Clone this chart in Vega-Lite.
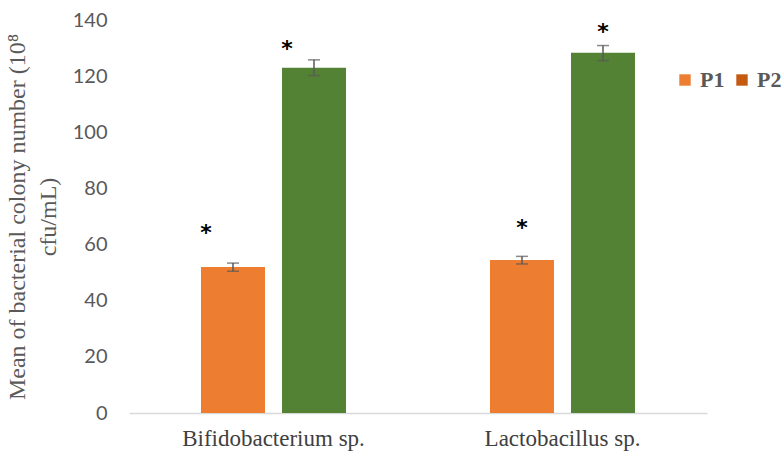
{
  "$schema": "https://vega.github.io/schema/vega-lite/v6.json",
  "width": 578,
  "height": 393,
  "autosize": {"type": "none"},
  "padding": {"left": 129, "top": 20, "right": 77, "bottom": 41},
  "background": "white",
  "config": {"view": {"stroke": null}},
  "data": {
    "values": [
      {"genus": "Bifidobacterium sp.", "series": "P1", "mean": 52, "lo": 50.5, "hi": 53.4, "star": 67},
      {"genus": "Bifidobacterium sp.", "series": "P2", "mean": 123, "lo": 120.2, "hi": 125.8, "star": 132.5},
      {"genus": "Lactobacillus sp.", "series": "P1", "mean": 54.5, "lo": 53.1, "hi": 55.8, "star": 68.8},
      {"genus": "Lactobacillus sp.", "series": "P2", "mean": 128.3, "lo": 125.5, "hi": 130.9, "star": 138.6}
    ]
  },
  "encoding": {
    "x": {
      "field": "genus", "type": "nominal",
      "scale": {"paddingInner": 0, "paddingOuter": 0},
      "axis": {
        "title": null, "labelAngle": 0, "ticks": false, "labelLimit": 0,
        "domainColor": "#d9d9d9", "domainWidth": 1.5,
        "labelFont": "Liberation Serif", "labelFontSize": 23, "labelColor": "#404040",
        "labelPadding": 14
      }
    },
    "xOffset": {
      "field": "series", "type": "nominal",
      "scale": {"paddingInner": 0.21, "paddingOuter": 0.889}
    }
  },
  "layer": [
    {
      "mark": {"type": "bar"},
      "encoding": {
        "y": {
          "field": "mean", "type": "quantitative",
          "scale": {"domain": [0, 140], "nice": false},
          "axis": {
            "values": [0, 20, 40, 60, 80, 100, 120, 140],
            "grid": false, "ticks": false, "domain": false,
            "labelFont": "Lato", "labelFontSize": 20, "labelColor": "#595959",
            "labelPadding": 22,
            "title": ["Mean of bacterial colony number (10⁸", "cfu/mL)"],
            "titleFont": "Liberation Serif", "titleFontSize": 24, "titleFontWeight": "normal",
            "titleLineHeight": 31,
            "titleColor": "#595959", "titlePadding": 12
          }
        },
        "color": {
          "field": "series", "type": "nominal",
          "scale": {"domain": ["P1", "P2"], "range": ["#ED7D31", "#548235"]},
          "legend": null
        }
      }
    },
    {
      "mark": {"type": "rule", "color": "#595959", "strokeWidth": 1.5},
      "encoding": {
        "y": {"field": "lo", "type": "quantitative"},
        "y2": {"field": "hi"}
      }
    },
    {
      "mark": {"type": "tick", "color": "#595959", "size": 12, "thickness": 1.5, "orient": "horizontal"},
      "encoding": {"y": {"field": "lo", "type": "quantitative"}}
    },
    {
      "mark": {"type": "tick", "color": "#595959", "size": 12, "thickness": 1.5, "orient": "horizontal"},
      "encoding": {"y": {"field": "hi", "type": "quantitative"}}
    },
    {
      "transform": [{"filter": "datum.genus == 'Bifidobacterium sp.'"}],
      "mark": {"type": "text", "text": "*", "font": "DejaVu Sans", "fontSize": 22, "fontWeight": "bold", "color": "black", "dx": -27, "dy": 8},
      "encoding": {"y": {"field": "star", "type": "quantitative"}}
    },
    {
      "transform": [{"filter": "datum.genus == 'Lactobacillus sp.'"}],
      "mark": {"type": "text", "text": "*", "font": "DejaVu Sans", "fontSize": 22, "fontWeight": "bold", "color": "black", "dy": 8},
      "encoding": {"y": {"field": "star", "type": "quantitative"}}
    },
    {
      "mark": {"type": "square", "opacity": 0, "size": 1},
      "encoding": {
        "y": {"field": "mean", "type": "quantitative"},
        "color": {
          "field": "series", "type": "nominal",
          "scale": {"domain": ["P1", "P2"], "range": ["#ED7D31", "#C55A11"]},
          "legend": {
            "title": null, "orient": "none", "legendX": 545, "legendY": 49,
            "direction": "horizontal", "symbolType": "square", "symbolSize": 130,
            "symbolOpacity": 1, "symbolStrokeWidth": 0, "labelLimit": 0,
            "labelFont": "Liberation Serif", "labelFontSize": 22, "labelFontWeight": "bold",
            "labelColor": "#595959", "columnPadding": 6, "labelOffset": 4
          }
        }
      }
    }
  ],
  "resolve": {"scale": {"color": "independent"}}
}
